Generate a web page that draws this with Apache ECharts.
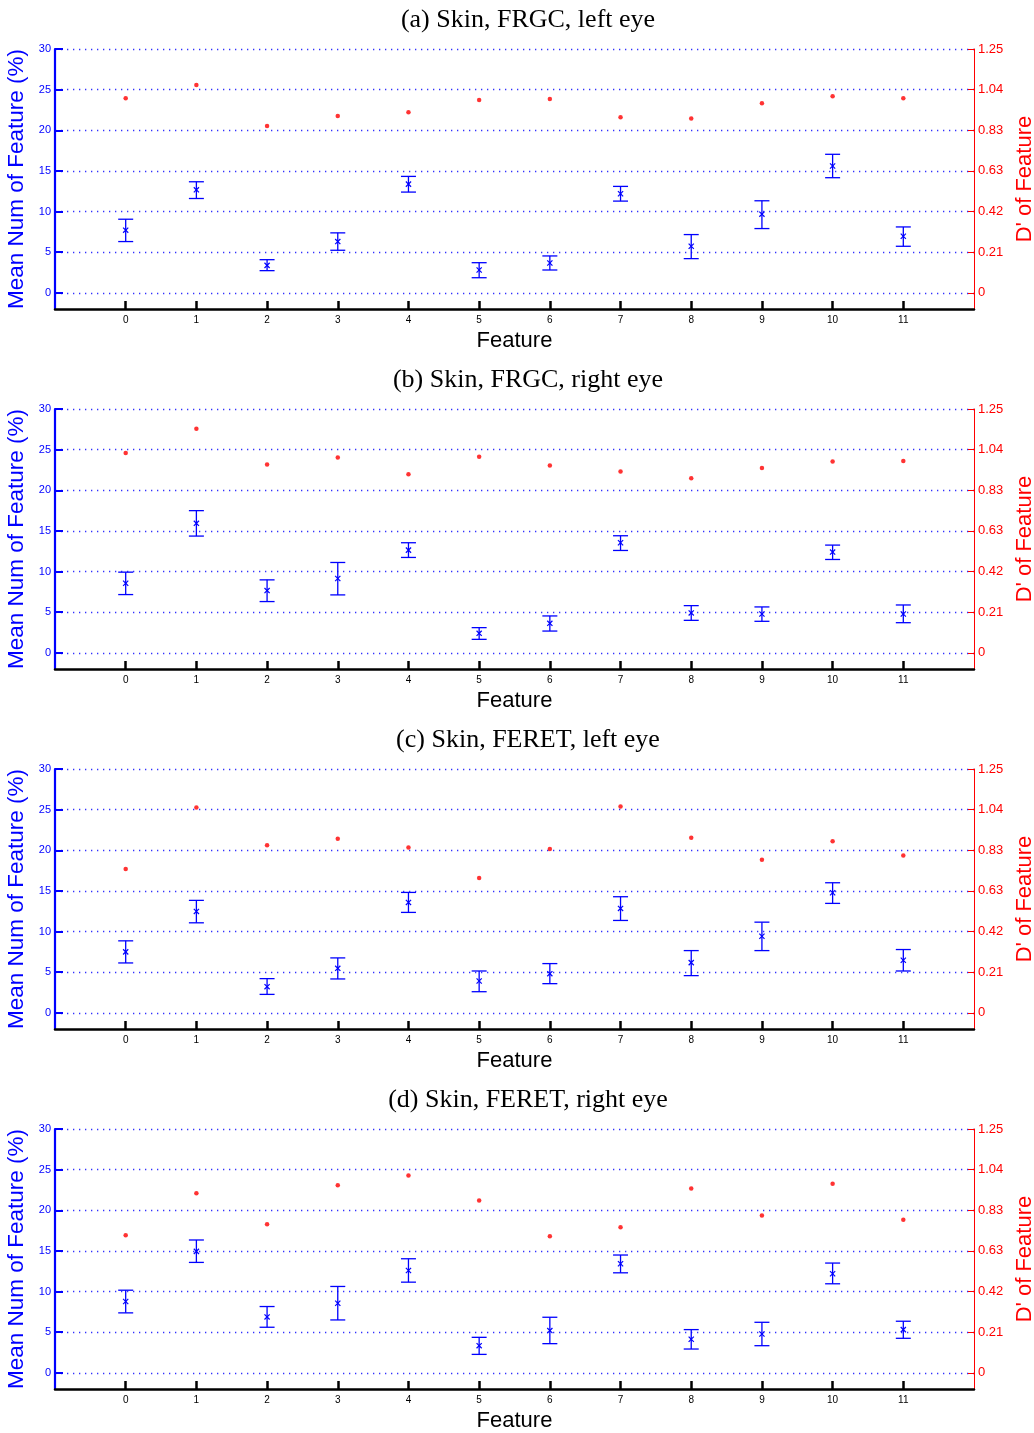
<!DOCTYPE html>
<html>
<head>
<meta charset="utf-8">
<script src="https://cdn.jsdelivr.net/npm/echarts@6/dist/echarts.min.js"></script>
<style>
  html, body { margin: 0; padding: 0; background: #fff; }
  #chart { width: 1034px; height: 1433px; }
</style>
</head>
<body>
<div id="chart"></div>
<script>
// Feature indices shared by all four panels
const features = [0, 1, 2, 3, 4, 5, 6, 7, 8, 9, 10, 11];
const panelTitles = [
  '(a) Skin, FRGC, left eye',
  '(b) Skin, FRGC, right eye',
  '(c) Skin, FERET, left eye',
  '(d) Skin, FERET, right eye'
];
const leftTicks = [0, 5, 10, 15, 20, 25, 30];
const rightTickLabels = ['0', '0.21', '0.42', '0.63', '0.83', '1.04', '1.25'];

// (a) FRGC, left eye
const meanA   = [7.7, 12.67, 3.37, 6.3, 13.37, 2.8, 3.66, 12.18, 5.72, 9.67, 15.6, 6.95];
const lowA    = [6.3, 11.6, 2.72, 5.23, 12.39, 1.85, 2.8, 11.28, 4.2, 7.9, 14.16, 5.72];
const highA   = [9.05, 13.66, 4.07, 7.37, 14.32, 3.7, 4.53, 13.09, 7.16, 11.32, 17.04, 8.1];
const dprimeA = [0.998, 1.066, 0.855, 0.907, 0.926, 0.989, 0.993, 0.900, 0.893, 0.972, 1.008, 0.998];

// (b) FRGC, right eye
const meanB   = [8.56, 15.93, 7.65, 9.14, 12.63, 2.39, 3.62, 13.54, 4.9, 4.77, 12.39, 4.77];
const lowB    = [7.16, 14.36, 6.3, 7.12, 11.73, 1.65, 2.67, 12.59, 3.99, 3.87, 11.48, 3.7];
const highB   = [9.92, 17.49, 8.97, 11.11, 13.54, 3.09, 4.53, 14.4, 5.8, 5.64, 13.25, 5.88];
const dprimeB = [1.025, 1.149, 0.965, 1.001, 0.916, 1.005, 0.960, 0.929, 0.895, 0.947, 0.981, 0.983];

// (c) FERET, left eye
const meanC   = [7.49, 12.47, 3.21, 5.47, 13.58, 3.91, 4.81, 12.84, 6.17, 9.42, 14.77, 6.46];
const lowC    = [6.13, 11.07, 2.26, 4.16, 12.35, 2.59, 3.58, 11.36, 4.57, 7.65, 13.46, 5.14];
const highC   = [8.85, 13.83, 4.2, 6.75, 14.81, 5.14, 6.05, 14.28, 7.65, 11.15, 16.0, 7.78];
const dprimeC = [0.737, 1.053, 0.859, 0.892, 0.847, 0.691, 0.840, 1.058, 0.898, 0.784, 0.880, 0.806];

// (d) FERET, right eye
const meanD   = [8.77, 14.94, 6.87, 8.56, 12.59, 3.33, 5.19, 13.42, 4.12, 4.77, 12.18, 5.31];
const lowD    = [7.37, 13.58, 5.6, 6.5, 11.15, 2.26, 3.58, 12.3, 2.92, 3.33, 10.95, 4.24];
const highD   = [10.16, 16.34, 8.15, 10.62, 14.03, 4.36, 6.83, 14.49, 5.31, 6.21, 13.5, 6.34];
const dprimeD = [0.705, 0.921, 0.761, 0.962, 1.012, 0.883, 0.700, 0.746, 0.945, 0.806, 0.969, 0.784];

const panels = [
  { mean: meanA, low: lowA, high: highA, dprime: dprimeA },
  { mean: meanB, low: lowB, high: highB, dprime: dprimeB },
  { mean: meanC, low: lowC, high: highC, dprime: dprimeC },
  { mean: meanD, low: lowD, high: highD, dprime: dprimeD }
];

const LEFT_MIN = -2, LEFT_MAX = 30;
const RIGHT_MAX = 1.25;
const RIGHT_MIN = LEFT_MIN * RIGHT_MAX / LEFT_MAX;
const RIGHT_STEP = RIGHT_MAX / 6;
const rightTicks = rightTickLabels.map((_, k) => k * RIGHT_STEP);

const BLUE = '#0000ff';
const RED = '#ff0000';
const SANS = 'Liberation Sans, Arial, Helvetica, sans-serif';
const SERIF = 'Liberation Serif, Times New Roman, serif';

const PANEL_STEP = 360;
const grids = [], xAxes = [], yAxes = [], titles = [], series = [];

// Error bar with caps plus an "x" marker at the mean
function renderErrorBar(params, api) {
  const x = api.value(0);
  const pMean = api.coord([x, api.value(1)]);
  const pLow = api.coord([x, api.value(2)]);
  const pHigh = api.coord([x, api.value(3)]);
  const cap = 7.5, m = 2.6;
  const line = { stroke: BLUE, lineWidth: 1.3 };
  return {
    type: 'group',
    children: [
      { type: 'line', shape: { x1: pLow[0], y1: pLow[1], x2: pHigh[0], y2: pHigh[1] }, style: line },
      { type: 'line', shape: { x1: pLow[0] - cap, y1: pLow[1], x2: pLow[0] + cap, y2: pLow[1] }, style: line },
      { type: 'line', shape: { x1: pHigh[0] - cap, y1: pHigh[1], x2: pHigh[0] + cap, y2: pHigh[1] }, style: line },
      { type: 'line', shape: { x1: pMean[0] - m, y1: pMean[1] - m, x2: pMean[0] + m, y2: pMean[1] + m }, style: { stroke: BLUE, lineWidth: 1.2 } },
      { type: 'line', shape: { x1: pMean[0] - m, y1: pMean[1] + m, x2: pMean[0] + m, y2: pMean[1] - m }, style: { stroke: BLUE, lineWidth: 1.2 } }
    ]
  };
}

panels.forEach((p, i) => {
  const top = 49 + PANEL_STEP * i;
  grids.push({ left: 55, right: 60, top: top, height: 260, outerBoundsMode: 'none', containLabel: false });

  titles.push({
    text: panelTitles[i],
    left: 523,
    textAlign: 'center',
    top: top - 47,
    textStyle: { fontFamily: SERIF, fontSize: 26, fontWeight: 'normal', color: '#000' }
  });

  xAxes.push({
    type: 'value', gridIndex: i, min: -1, max: 12,
    name: 'Feature', nameLocation: 'middle', nameGap: 21,
    nameTextStyle: { fontFamily: SANS, fontSize: 22, color: '#000' },
    axisLine: { show: true, onZero: false, lineStyle: { color: '#000', width: 2.5 } },
    axisTick: { show: true, inside: true, length: 8, customValues: features, lineStyle: { color: '#000', width: 2.5 } },
    axisLabel: { show: true, customValues: features, margin: 6, fontFamily: SANS, fontSize: 10, color: '#000' },
    splitLine: { show: false }
  });

  yAxes.push({
    type: 'value', gridIndex: i, position: 'left', min: LEFT_MIN, max: LEFT_MAX,
    name: 'Mean Num of Feature (%)', nameLocation: 'middle', nameGap: 20, nameRotate: 90,
    nameTextStyle: { fontFamily: SANS, fontSize: 22.5, color: BLUE },
    axisLine: { show: true, onZero: false, lineStyle: { color: BLUE, width: 2.2 } },
    axisTick: { show: true, inside: true, length: 8, customValues: leftTicks, lineStyle: { color: BLUE, width: 2 } },
    axisLabel: { show: true, customValues: leftTicks, margin: 4, fontFamily: SANS, fontSize: 11, color: BLUE },
    splitLine: { show: true, lineStyle: { color: '#3030ff', width: 1.3, type: [1.3, 4.7] } }
  });

  yAxes.push({
    type: 'value', gridIndex: i, position: 'right', min: RIGHT_MIN, max: RIGHT_MAX,
    name: "D' of Feature", nameLocation: 'middle', nameGap: 33, nameRotate: 90,
    nameTextStyle: { fontFamily: SANS, fontSize: 22, color: RED },
    axisLine: { show: true, onZero: false, lineStyle: { color: RED, width: 1 } },
    axisTick: { show: true, inside: true, length: 6, customValues: rightTicks, lineStyle: { color: RED, width: 1 } },
    axisLabel: {
      show: true, customValues: rightTicks, margin: 4, fontFamily: SANS, fontSize: 13, color: RED,
      formatter: v => rightTickLabels[Math.round(v / RIGHT_STEP)]
    },
    splitLine: { show: false }
  });

  series.push({
    type: 'custom', xAxisIndex: i, yAxisIndex: 2 * i,
    renderItem: renderErrorBar,
    data: features.map((f, k) => [f, p.mean[k], p.low[k], p.high[k]]),
    z: 3
  });

  series.push({
    type: 'scatter', xAxisIndex: i, yAxisIndex: 2 * i + 1,
    symbol: 'circle', symbolSize: 4.5,
    itemStyle: { color: RED },
    data: features.map((f, k) => [f, p.dprime[k]]),
    z: 4
  });
});

const chart = echarts.init(document.getElementById('chart'), null, { renderer: 'canvas' });
chart.setOption({
  animation: false,
  backgroundColor: '#fff',
  title: titles,
  grid: grids,
  xAxis: xAxes,
  yAxis: yAxes,
  series: series
});
</script>
</body>
</html>
